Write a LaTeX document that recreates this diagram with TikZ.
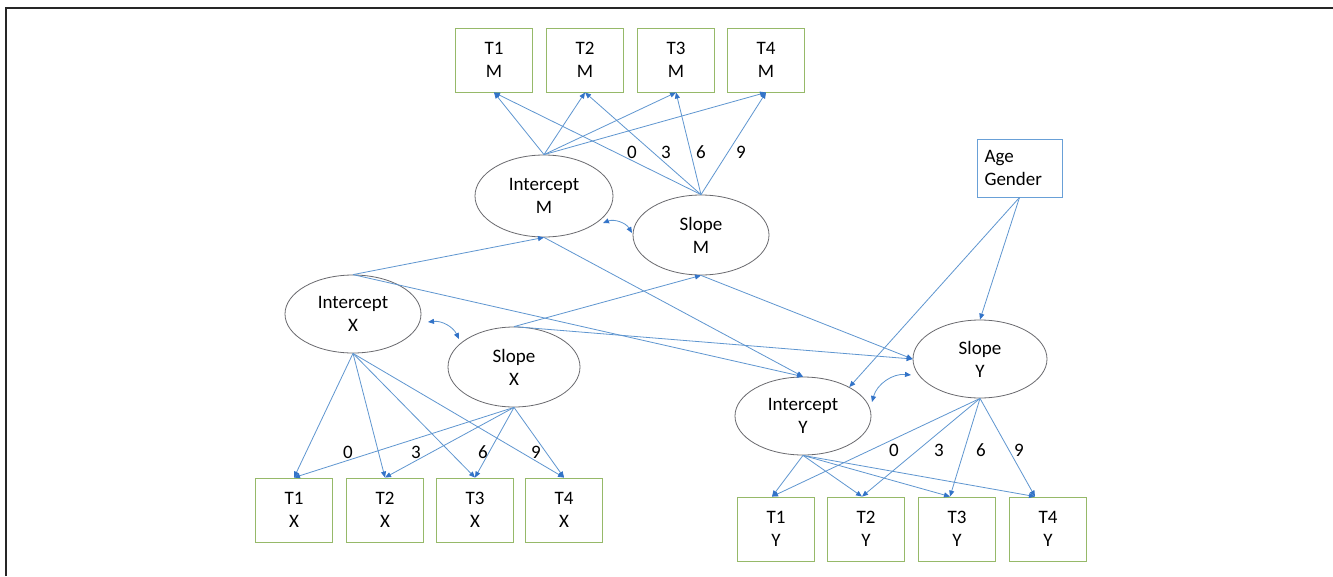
\documentclass[tikz,border=0pt]{standalone}
\usepackage{fontspec}
\setmainfont{Carlito}
\usetikzlibrary{arrows.meta,shapes.geometric,calc}
\definecolor{lineblue}{RGB}{95,150,208}
\definecolor{tipblue}{RGB}{50,115,200}
\definecolor{boxgreen}{RGB}{150,185,105}
\definecolor{ellgray}{RGB}{105,105,110}
\definecolor{agebox}{RGB}{105,160,215}
\begin{document}
\begin{tikzpicture}[x=1pt,y=-1pt,
  txt/.style={font=\fontsize{19}{23}\selectfont},
  obs/.style={txt,draw=boxgreen,line width=0.9pt,minimum width=77pt,minimum height=64pt,inner sep=0pt,align=center},
  lat/.style={txt,draw=ellgray,ellipse,line width=0.8pt,inner sep=0pt,align=center},
  arr/.style={draw=lineblue,line width=0.8pt,-{Triangle[length=6pt,width=5pt,fill=tipblue,color=tipblue]}},
  cov/.style={draw=lineblue,line width=0.8pt,{Triangle[length=6pt,width=5pt,fill=tipblue,color=tipblue]}-{Triangle[length=6pt,width=5pt,fill=tipblue,color=tipblue]}},
  lab/.style={font=\fontsize{19}{22}\selectfont,inner sep=0pt}
]
\useasboundingbox (0,0) rectangle (1333,576);
\fill[white] (0,0) rectangle (1333,576);
\draw[line width=1.6pt,draw=black!85] (6,576) -- (6,8) -- (1333,8);

% M boxes
\node[obs] (t1m) at (494,60) {T1\\M};
\node[obs] (t2m) at (585,60) {T2\\M};
\node[obs] (t3m) at (676,60) {T3\\M};
\node[obs] (t4m) at (766,60) {T4\\M};
% X boxes
\node[obs] (t1x) at (294,510) {T1\\X};
\node[obs] (t2x) at (385,510) {T2\\X};
\node[obs] (t3x) at (475,510) {T3\\X};
\node[obs] (t4x) at (564,510) {T4\\X};
% Y boxes
\node[obs] (t1y) at (776,529) {T1\\Y};
\node[obs] (t2y) at (866,529) {T2\\Y};
\node[obs] (t3y) at (957,529) {T3\\Y};
\node[obs] (t4y) at (1048,529) {T4\\Y};

% latents
\node[lat,minimum width=138pt,minimum height=82pt] (intm) at (544,196) {Intercept\\M};
\node[lat,minimum width=136pt,minimum height=80pt] (slm) at (701,235) {Slope\\M};
\node[lat,minimum width=136pt,minimum height=78pt] (intx) at (353,314) {Intercept\\X};
\node[lat,minimum width=132pt,minimum height=80pt] (slx) at (514,367) {Slope\\X};
\node[lat,minimum width=136pt,minimum height=78pt] (inty) at (803,416) {Intercept\\Y};
\node[lat,minimum width=134pt,minimum height=78pt] (sly) at (980,359) {Slope\\Y};

\node[txt,draw=agebox,line width=0.9pt,minimum width=85pt,minimum height=58pt,text width=70pt,align=left,inner sep=0pt] (age) at (1019.5,168) {Age\\Gender};

% loadings M
\foreach \b in {t1m,t2m,t3m,t4m}{
  \draw[arr] (intm.north) -- (\b.south);
  \draw[arr] (slm.north) -- (\b.south);
}
% loadings X
\foreach \b in {t1x,t2x,t3x,t4x}{
  \draw[arr] (intx.south) -- (\b.north);
  \draw[arr] (slx.south) -- (\b.north);
}
% loadings Y
\coordinate (p1y) at ($(t1y.north)+(-4,0)$);
\coordinate (p2y) at ($(t2y.north)+(-4,0)$);
\coordinate (p3y) at ($(t3y.north)+(-7,0)$);
\coordinate (p4y) at ($(t4y.north)+(-13,0)$);
\foreach \b in {p1y,p2y,p3y,p4y}{
  \draw[arr] (inty.south) -- (\b);
  \draw[arr] (sly.south) -- (\b);
}

% labels
\node[lab] (m0) at (632,152) {0};
\node[lab] (m3) at (666,152) {3};
\node[lab] (m6) at (701,152) {6};
\node[lab] (m9) at (741,152) {9};
\node[lab] (x0) at (348,452) {0};
\node[lab] (x3) at (416,452) {3};
\node[lab] (x6) at (483,452) {6};
\node[lab] (x9) at (536,452) {9};
\node[lab] (y0) at (894,450) {0};
\node[lab] (y3) at (939,450) {3};
\node[lab] (y6) at (981,450) {6};
\node[lab] (y9) at (1019,450) {9};

% structural paths
\draw[arr] (intx.north) -- (intm.south);
\draw[arr] (intx.north) -- (inty.north);
\draw[arr] (intm.south) -- (inty.north);
\draw[arr] (slx.north) -- (slm.south);
\draw[arr] (slx.north) -- (sly.west);
\draw[arr] (slm.south) -- (sly.west);
\draw[arr] (age.south) -- (sly.north);
\draw[arr] (age.south) -- (inty.32);

% covariances
\draw[cov] ($(intm)+(59,27)$) to[bend left=40] ($(slm)+(-69,-2)$);
\draw[cov] ($(intx)+(75,8)$) to[bend left=35] ($(slx)+(-55,-28)$);
\draw[cov] ($(inty)+(69,-14)$) to[bend left=40] ($(sly)+(-69,16)$);
\end{tikzpicture}
\end{document}
